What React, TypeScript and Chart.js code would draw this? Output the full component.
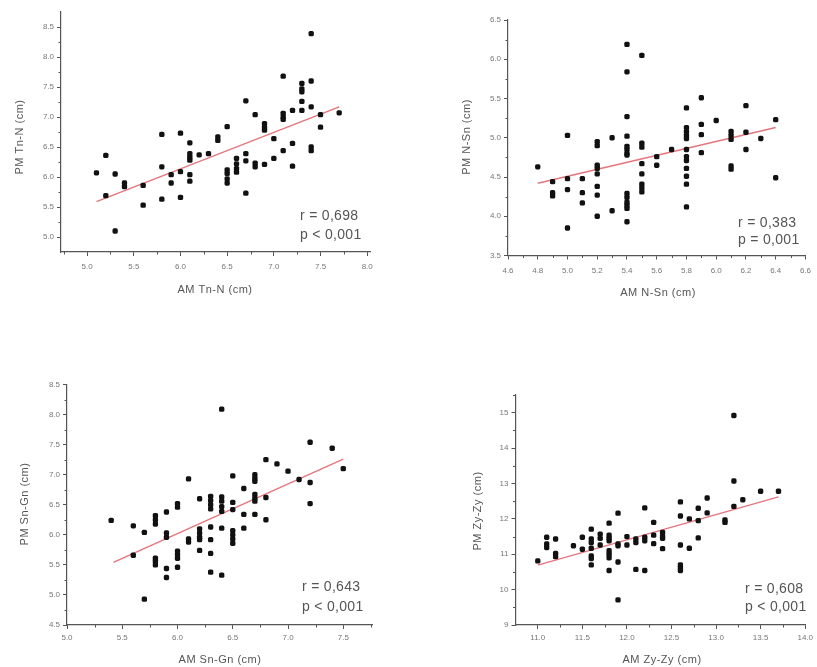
import React, { useEffect, useRef } from 'react';
import { Chart, registerables } from 'chart.js';

Chart.register(...registerables);

const FONT = '"Liberation Sans", Arial, Helvetica, sans-serif';

// ---------- Panel 1: Tn-N ----------
const amTnN = [5.1, 5.2, 5.2, 5.3, 5.3, 5.4, 5.4, 5.6, 5.6, 5.8, 5.8, 5.8, 5.9, 5.9, 6.0, 6.0, 6.0,
  6.1, 6.1, 6.1, 6.1, 6.1, 6.1, 6.2, 6.3, 6.4, 6.4, 6.5, 6.5, 6.5, 6.5, 6.5, 6.6, 6.6, 6.6, 6.6,
  6.7, 6.7, 6.7, 6.7, 6.8, 6.8, 6.8, 6.9, 6.9, 6.9, 6.9, 7.0, 7.0, 7.1, 7.1, 7.1, 7.1, 7.1,
  7.2, 7.2, 7.2, 7.3, 7.3, 7.3, 7.3, 7.3, 7.4, 7.4, 7.4, 7.4, 7.4, 7.5, 7.5, 7.7];
const pmTnN = [6.07, 6.36, 5.69, 6.05, 5.10, 5.90, 5.84, 5.86, 5.53, 6.71, 6.17, 5.63, 6.04, 5.90, 6.73, 6.09, 5.66,
  6.57, 6.39, 6.33, 6.28, 6.04, 5.93, 6.37, 6.39, 6.67, 6.61, 6.84, 6.12, 6.06, 5.97, 5.90, 6.31, 6.22, 6.14, 6.08,
  7.27, 6.39, 6.27, 5.73, 7.04, 6.23, 6.17, 6.89, 6.83, 6.78, 6.21, 6.64, 6.31, 7.68, 7.06, 7.00, 6.96, 6.44,
  7.11, 6.56, 6.18, 7.56, 7.47, 7.42, 7.26, 7.11, 8.39, 7.60, 7.17, 6.50, 6.44, 7.04, 6.83, 7.07];
const fitTnNX = [5.1, 7.7];
const fitTnNY = [5.59, 7.17];
const tnNXTicks = [5.0, 5.5, 6.0, 6.5, 7.0, 7.5, 8.0];
const tnNXMinor = [4.75, 5.25, 5.75, 6.25, 6.75, 7.25, 7.75];
const tnNYTicks = [5.0, 5.5, 6.0, 6.5, 7.0, 7.5, 8.0, 8.5];
const tnNYMinor = [5.25, 5.75, 6.25, 6.75, 7.25, 7.75, 8.25];
const tnNStats = ['r = 0,698', 'p < 0,001'];

// ---------- Panel 2: N-Sn ----------
const amNSn = [4.8, 4.9, 4.9, 4.9, 5.0, 5.0, 5.0, 5.0, 5.1, 5.1, 5.1,
  5.2, 5.2, 5.2, 5.2, 5.2, 5.2, 5.2, 5.2, 5.3, 5.3,
  5.4, 5.4, 5.4, 5.4, 5.4, 5.4, 5.4, 5.4, 5.4, 5.4, 5.4, 5.4, 5.4, 5.4,
  5.5, 5.5, 5.5, 5.5, 5.5, 5.5, 5.5, 5.5, 5.6, 5.6, 5.7,
  5.8, 5.8, 5.8, 5.8, 5.8, 5.8, 5.8, 5.8, 5.8, 5.8, 5.8, 5.8,
  5.9, 5.9, 5.9, 5.9, 6.0, 6.1, 6.1, 6.1, 6.1, 6.1, 6.2, 6.2, 6.2, 6.3, 6.4, 6.4];
const pmNSn = [4.63, 4.44, 4.30, 4.26, 5.03, 4.48, 4.34, 3.85, 4.48, 4.30, 4.17,
  4.95, 4.90, 4.65, 4.61, 4.54, 4.38, 4.27, 4.00, 5.00, 4.07,
  6.19, 5.84, 5.27, 5.02, 4.89, 4.85, 4.80, 4.78, 4.29, 4.24, 4.18, 4.14, 4.10, 3.93,
  6.05, 4.93, 4.88, 4.67, 4.54, 4.41, 4.36, 4.31, 4.76, 4.65, 4.85,
  5.38, 5.13, 5.08, 5.03, 4.99, 4.85, 4.76, 4.71, 4.61, 4.51, 4.41, 4.12,
  5.51, 5.17, 5.04, 4.81, 5.22, 5.08, 5.03, 4.98, 4.64, 4.60, 5.41, 5.07, 4.85, 4.99, 5.23, 4.49];
const fitNSnX = [4.8, 6.4];
const fitNSnY = [4.42, 5.13];
const nSnXTicks = [4.6, 4.8, 5.0, 5.2, 5.4, 5.6, 5.8, 6.0, 6.2, 6.4, 6.6];
const nSnXMinor = [4.7, 4.9, 5.1, 5.3, 5.5, 5.7, 5.9, 6.1, 6.3, 6.5];
const nSnYTicks = [3.5, 4.0, 4.5, 5.0, 5.5, 6.0, 6.5];
const nSnYMinor = [3.75, 4.25, 4.75, 5.25, 5.75, 6.25];
const nSnStats = ['r = 0,383', 'p = 0,001'];

// ---------- Panel 3: Sn-Gn ----------
const amSnGn = [5.4, 5.6, 5.6, 5.7, 5.7, 5.8, 5.8, 5.8, 5.8, 5.8, 5.8,
  5.9, 5.9, 5.9, 5.9, 5.9, 6.0, 6.0, 6.0, 6.0, 6.0, 6.0, 6.1, 6.1, 6.1,
  6.2, 6.2, 6.2, 6.2, 6.2, 6.2, 6.3, 6.3, 6.3, 6.3, 6.3, 6.3, 6.3, 6.3,
  6.4, 6.4, 6.4, 6.4, 6.4, 6.4, 6.4, 6.5, 6.5, 6.5, 6.5, 6.5, 6.5, 6.5,
  6.6, 6.6, 6.6, 6.7, 6.7, 6.7, 6.7, 6.7, 6.7, 6.7, 6.8, 6.8, 6.8,
  6.9, 7.0, 7.1, 7.2, 7.2, 7.2, 7.4, 7.5];
const pmSnGn = [6.24, 6.15, 5.66, 6.04, 4.93, 6.32, 6.25, 6.18, 5.61, 5.56, 5.50,
  6.38, 6.03, 5.96, 5.44, 5.29, 6.52, 6.46, 5.73, 5.67, 5.61, 5.46, 6.93, 5.93, 5.88,
  6.60, 6.10, 6.03, 5.96, 5.92, 5.74, 6.64, 6.57, 6.50, 6.43, 6.13, 5.92, 5.69, 5.38,
  8.09, 6.63, 6.56, 6.47, 6.39, 6.11, 5.33, 6.98, 6.54, 6.42, 6.07, 6.00, 5.93, 5.86,
  6.77, 6.34, 6.11, 7.00, 6.94, 6.89, 6.67, 6.61, 6.56, 6.34, 7.25, 6.62, 6.25,
  7.18, 7.06, 6.92, 7.54, 6.87, 6.52, 7.44, 7.10];
const fitSnGnX = [5.42, 7.5];
const fitSnGnY = [5.54, 7.26];
const snGnXTicks = [5.0, 5.5, 6.0, 6.5, 7.0, 7.5];
const snGnXMinor = [5.25, 5.75, 6.25, 6.75, 7.25, 7.75];
const snGnYTicks = [4.5, 5.0, 5.5, 6.0, 6.5, 7.0, 7.5, 8.0, 8.5];
const snGnYMinor = [4.75, 5.25, 5.75, 6.25, 6.75, 7.25, 7.75, 8.25];
const snGnStats = ['r = 0,643', 'p < 0,001'];

// ---------- Panel 4: Zy-Zy ----------
const amZyZy = [11.0, 11.1, 11.1, 11.1, 11.2, 11.2, 11.2, 11.4, 11.5, 11.5,
  11.6, 11.6, 11.6, 11.6, 11.6, 11.6, 11.6, 11.7, 11.7, 11.7,
  11.8, 11.8, 11.8, 11.8, 11.8, 11.8, 11.8, 11.8, 11.9, 11.9, 11.9, 11.9, 11.9,
  12.0, 12.0, 12.1, 12.1, 12.1, 12.2, 12.2, 12.2, 12.2, 12.3, 12.3, 12.3,
  12.4, 12.4, 12.4, 12.4, 12.6, 12.6, 12.6, 12.6, 12.6, 12.6, 12.7, 12.7,
  12.8, 12.8, 12.8, 12.9, 12.9, 13.1, 13.1, 13.2, 13.2, 13.2, 13.3, 13.5, 13.7];
const pmZyZy = [10.81, 11.48, 11.29, 11.19, 11.43, 11.02, 10.93, 11.24, 11.48, 11.14,
  11.71, 11.43, 11.33, 11.17, 10.95, 10.88, 10.70, 11.57, 11.45, 11.26,
  11.88, 11.54, 11.45, 11.38, 11.10, 11.00, 10.90, 10.54, 12.16, 11.29, 11.24, 10.78, 9.71,
  11.50, 11.26, 11.43, 11.33, 10.57, 12.31, 11.48, 11.38, 10.54, 11.90, 11.54, 11.30,
  11.62, 11.52, 11.45, 11.16, 12.48, 12.08, 11.26, 10.70, 10.62, 10.54, 12.00, 11.17,
  12.30, 11.95, 11.46, 12.59, 12.17, 11.97, 11.90, 14.92, 13.07, 12.35, 12.54, 12.78, 12.78];
const fitZyZyX = [11.0, 13.7];
const fitZyZyY = [10.69, 12.62];
const zyZyXTicks = [11.0, 11.5, 12.0, 12.5, 13.0, 13.5, 14.0];
const zyZyXMinor = [11.25, 11.75, 12.25, 12.75, 13.25, 13.75];
const zyZyYTicks = [9, 10, 11, 12, 13, 14, 15];
const zyZyYMinor = [9.5, 10.5, 11.5, 12.5, 13.5, 14.5, 15.5];
const zyZyStats = ['r = 0,608', 'p < 0,001'];

type PanelProps = {
  box: [number, number, number, number];
  pad: { left: number; right: number; top: number; bottom: number };
  yW: number;
  xH: number;
  xRange: [number, number];
  yRange: [number, number];
  xs: number[];
  ys: number[];
  fitX: number[];
  fitY: number[];
  xTicks: number[];
  yTicks: number[];
  xMinor: number[];
  yMinor: number[];
  yDecimals: number;
  xLabelPad: number;
  xTitle: string;
  yTitle: string;
  xTitlePos: [number, number];
  yTitlePos: [number, number];
  stats: string[];
  statPos: [number, number, number];
};

function Panel(p: PanelProps) {
  const ref = useRef<HTMLCanvasElement | null>(null);
  useEffect(() => {
    if (!ref.current) return;
    const [ox, oy] = p.box;
    const overlay = {
      id: 'overlay',
      afterDraw(chart: any) {
        const ctx = chart.ctx;
        const xs = chart.scales.x;
        const ys = chart.scales.y;
        const area = chart.chartArea;
        ctx.save();
        ctx.strokeStyle = '#555';
        ctx.lineWidth = 1;
        ctx.beginPath();
        p.xMinor.forEach((v) => {
          const px = Math.round(xs.getPixelForValue(v)) + 0.5;
          ctx.moveTo(px, area.bottom);
          ctx.lineTo(px, area.bottom + 2.5);
        });
        p.yMinor.forEach((v) => {
          const py = Math.round(ys.getPixelForValue(v)) + 0.5;
          ctx.moveTo(area.left, py);
          ctx.lineTo(area.left - 2.5, py);
        });
        ctx.stroke();

        ctx.fillStyle = '#555';
        ctx.font = `11px ${FONT}`;
        (ctx as any).letterSpacing = '0.5px';
        ctx.textAlign = 'center';
        ctx.textBaseline = 'middle';
        ctx.fillText(p.xTitle, p.xTitlePos[0] - ox, p.xTitlePos[1] - oy);
        ctx.save();
        ctx.translate(p.yTitlePos[0] - ox, p.yTitlePos[1] - oy);
        ctx.rotate(-Math.PI / 2);
        ctx.fillText(p.yTitle, 0, 0);
        ctx.restore();

        ctx.font = `14px ${FONT}`;
        (ctx as any).letterSpacing = '0.3px';
        ctx.textAlign = 'left';
        ctx.fillStyle = '#555';
        ctx.fillText(p.stats[0], p.statPos[0] - ox, p.statPos[1] - oy);
        ctx.fillText(p.stats[1], p.statPos[0] - ox, p.statPos[2] - oy);
        ctx.restore();
      },
    };

    const near = (a: number, b: number) => Math.abs(a - b) < 1e-6;
    const chart = new Chart(ref.current, {
      type: 'scatter',
      data: {
        datasets: [
          {
            data: p.xs.map((x, i) => ({ x, y: p.ys[i] })),
            pointStyle: 'rectRounded',
            pointRadius: 3.1,
            pointBackgroundColor: '#111',
            pointBorderColor: '#111',
            pointBorderWidth: 0,
            showLine: false,
          },
          {
            data: p.fitX.map((x, i) => ({ x, y: p.fitY[i] })),
            showLine: true,
            pointRadius: 0,
            borderColor: 'rgba(228,110,118,0.95)',
            borderWidth: 1.4,
          },
        ],
      },
      options: {
        animation: false,
        responsive: false,
        events: [],
        layout: { padding: p.pad },
        plugins: { legend: { display: false }, tooltip: { enabled: false } },
        scales: {
          x: {
            type: 'linear',
            bounds: 'data',
            min: p.xRange[0],
            max: p.xRange[1],
            afterFit: (s: any) => { s.height = p.xH; },
            afterBuildTicks: (s: any) => { s.ticks = p.xTicks.map((v) => ({ value: v })); },
            ticks: {
              autoSkip: false,
              maxRotation: 0,
              padding: p.xLabelPad,
              color: '#777',
              font: { size: 8, family: FONT },
              callback: (v: any) => {
                const n = Number(v);
                return p.xTicks.some((t) => near(t, n)) ? n.toFixed(1) : '';
              },
            },
            grid: { drawOnChartArea: false, drawTicks: true, tickLength: 4, color: '#555', lineWidth: 1 },
            border: { display: true, color: '#555', width: 1.2 },
          },
          y: {
            type: 'linear',
            bounds: 'data',
            min: p.yRange[0],
            max: p.yRange[1],
            afterFit: (s: any) => { s.width = p.yW; },
            afterBuildTicks: (s: any) => { s.ticks = p.yTicks.map((v) => ({ value: v })); },
            ticks: {
              autoSkip: false,
              padding: 3,
              color: '#777',
              font: { size: 8, family: FONT },
              callback: (v: any) => Number(v).toFixed(p.yDecimals),
            },
            grid: { drawOnChartArea: false, drawTicks: true, tickLength: 4, color: '#555', lineWidth: 1 },
            border: { display: true, color: '#555', width: 1.2 },
          },
        },
      } as any,
      plugins: [overlay],
    });
    return () => chart.destroy();
  }, []);
  const [x, y, w, h] = p.box;
  return (
    <div style={{ position: 'absolute', left: x, top: y, width: w, height: h }}>
      <canvas ref={ref} width={w} height={h} style={{ width: w, height: h, display: 'block' }} />
    </div>
  );
}

export default function App() {
  return (
    <div style={{ position: 'absolute', left: 0, top: 0, width: 817, height: 667, background: '#fff', overflow: 'hidden' }}>
      <Panel
        box={[0, 0, 410, 335]}
        pad={{ left: 21, right: 40, top: 12, bottom: 53 }}
        yW={40}
        xH={30}
        xRange={[4.72, 8.03]}
        yRange={[4.75, 8.75]}
        xs={amTnN}
        ys={pmTnN}
        fitX={fitTnNX}
        fitY={fitTnNY}
        xTicks={tnNXTicks}
        yTicks={tnNYTicks}
        xMinor={tnNXMinor}
        yMinor={tnNYMinor}
        yDecimals={1}
        xLabelPad={6}
        xTitle="AM Tn-N (cm)"
        yTitle="PM Tn-N (cm)"
        xTitlePos={[215, 290]}
        yTitlePos={[20, 137]}
        stats={tnNStats}
        statPos={[300, 216, 235]}
      />
      <Panel
        box={[410, 0, 407, 335]}
        pad={{ left: 58, right: 8, top: 20, bottom: 49.5 }}
        yW={40}
        xH={30}
        xRange={[4.6, 6.6]}
        yRange={[3.5, 6.5]}
        xs={amNSn}
        ys={pmNSn}
        fitX={fitNSnX}
        fitY={fitNSnY}
        xTicks={nSnXTicks}
        yTicks={nSnYTicks}
        xMinor={nSnXMinor}
        yMinor={nSnYMinor}
        yDecimals={1}
        xLabelPad={6}
        xTitle="AM N-Sn (cm)"
        yTitle="PM N-Sn (cm)"
        xTitlePos={[658, 293]}
        yTitlePos={[467, 137]}
        stats={nSnStats}
        statPos={[738, 223, 240]}
      />
      <Panel
        box={[0, 335, 410, 332]}
        pad={{ left: 27, right: 38, top: 49.5, bottom: 12 }}
        yW={40}
        xH={30}
        xRange={[5.0, 7.76]}
        yRange={[4.5, 8.5]}
        xs={amSnGn}
        ys={pmSnGn}
        fitX={fitSnGnX}
        fitY={fitSnGnY}
        xTicks={snGnXTicks}
        yTicks={snGnYTicks}
        xMinor={snGnXMinor}
        yMinor={snGnYMinor}
        yDecimals={1}
        xLabelPad={4}
        xTitle="AM Sn-Gn (cm)"
        yTitle="PM Sn-Gn (cm)"
        xTitlePos={[220, 660]}
        yTitlePos={[25, 504]}
        stats={snGnStats}
        statPos={[302, 587, 607]}
      />
      <Panel
        box={[410, 335, 407, 332]}
        pad={{ left: 65.5, right: 10.5, top: 60, bottom: 12 }}
        yW={40}
        xH={30}
        xRange={[10.75, 14.0]}
        yRange={[9, 15.5]}
        xs={amZyZy}
        ys={pmZyZy}
        fitX={fitZyZyX}
        fitY={fitZyZyY}
        xTicks={zyZyXTicks}
        yTicks={zyZyYTicks}
        xMinor={zyZyXMinor}
        yMinor={zyZyYMinor}
        yDecimals={0}
        xLabelPad={4}
        xTitle="AM Zy-Zy (cm)"
        yTitle="PM Zy-Zy (cm)"
        xTitlePos={[662, 660]}
        yTitlePos={[478, 511]}
        stats={zyZyStats}
        statPos={[745, 589, 607]}
      />
    </div>
  );
}
